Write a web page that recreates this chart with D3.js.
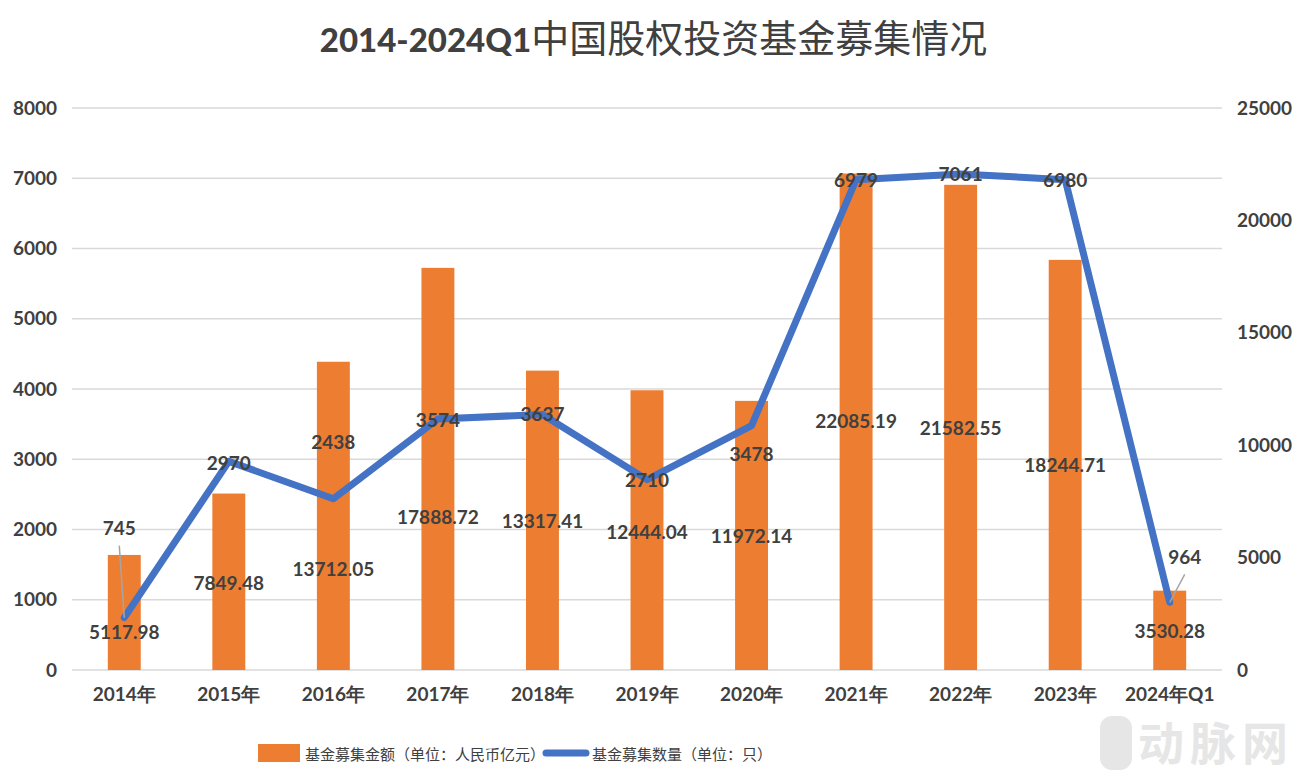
<!DOCTYPE html>
<html><head><meta charset="utf-8">
<script src="https://cdn.jsdelivr.net/npm/d3@7"></script>
<style>
html,body{margin:0;padding:0;background:#fff;}
svg{display:block;}
</style></head>
<body>
<script>
// ---- data ----
const categories = ["2014年","2015年","2016年","2017年","2018年","2019年","2020年","2021年","2022年","2023年","2024年Q1"];
const amounts = [5117.98, 7849.48, 13712.05, 17888.72, 13317.41, 12444.04, 11972.14, 22085.19, 21582.55, 18244.71, 3530.28];
const counts = [745, 2970, 2438, 3574, 3637, 2710, 3478, 6979, 7061, 6980, 964];
const leftTicks = [0,1000,2000,3000,4000,5000,6000,7000,8000];
const rightTicks = [0,5000,10000,15000,20000,25000];
const titleLatin = "2014-2024Q1";
const titleCJK = "中国股权投资基金募集情况";
const legendAmount = "基金募集金额（单位：人民币亿元）";
const legendCount = "基金募集数量（单位：只）";

// ---- layout (label placement, px) ----
const amountLabelDy = [77, 89, 207, 249, 150, 141, 135, 247, 243, 205, 40];
const countLabelOffset = [[-5,-90],[0,1],[0,-57],[0,1],[0,-1],[0,0],[0,28],[0,0],[0,0],[0,0],[15,-46]];
const leaderIdx = [0, 10];

const W = 1303, H = 777;
const m = {l:72, r:81, t:108, b:107};
const svg = d3.select("body").append("svg").attr("width",W).attr("height",H);

const x = d3.scaleBand().domain(categories).range([m.l, W-m.r]).paddingInner(0).paddingOuter(0);
const yL = d3.scaleLinear().domain([0,8000]).range([H-m.b, m.t]);
const yR = d3.scaleLinear().domain([0,25000]).range([H-m.b, m.t]);

const numFont = "Lato, 'Open Sans', sans-serif";
const txt = "#404040";

// watermark
const wm = svg.append("g");
wm.append("rect").attr("x",1100).attr("y",716).attr("width",32).attr("height",54).attr("rx",12).attr("fill","#e6e6e6");
wm.append("text").attr("x",1138).attr("y",760).attr("font-family","'Noto Sans CJK SC',sans-serif").attr("font-size",46)
  .attr("letter-spacing",6).attr("font-weight",700).attr("fill","#e6e6e6").text("动脉网");

// grid
svg.append("g").selectAll("line").data(leftTicks).join("line")
  .attr("x1",m.l).attr("x2",W-m.r).attr("y1",d=>yL(d)).attr("y2",d=>yL(d))
  .attr("stroke","#d9d9d9").attr("stroke-width",1.6);

// left axis
const axL = svg.append("g").attr("transform",`translate(${m.l},0)`)
  .call(d3.axisLeft(yL).tickValues(leftTicks).tickSize(0).tickPadding(15).tickFormat(d3.format("d")));
axL.select(".domain").remove();
axL.selectAll("text").attr("font-family",numFont).attr("font-weight",700).attr("font-size",19).attr("fill",txt);

// right axis
const axR = svg.append("g").attr("transform",`translate(${W-m.r},0)`)
  .call(d3.axisRight(yR).tickValues(rightTicks).tickSize(0).tickPadding(15).tickFormat(d3.format("d")));
axR.select(".domain").remove();
axR.selectAll("text").attr("font-family",numFont).attr("font-weight",700).attr("font-size",19).attr("fill",txt);

// x axis
const axX = svg.append("g").attr("transform",`translate(0,${H-m.b})`)
  .call(d3.axisBottom(x).tickSize(0).tickPadding(18));
axX.select(".domain").remove();
axX.selectAll("text").attr("font-family",numFont).attr("font-weight",700).attr("font-size",19).attr("fill",txt);

// bars
const bw = x.bandwidth()*0.315;
svg.append("g").selectAll("rect").data(amounts).join("rect")
  .attr("x",(d,i)=>x(categories[i])+x.bandwidth()/2-bw/2)
  .attr("width",bw)
  .attr("y",d=>yR(d))
  .attr("height",d=>yR(0)-yR(d))
  .attr("fill","#ED7D31");

// line
const cx = i => x(categories[i])+x.bandwidth()/2;
const line = d3.line().x((d,i)=>cx(i)).y(d=>yL(d));
svg.append("path").datum(counts).attr("d",line).attr("fill","none")
  .attr("stroke","#4472C4").attr("stroke-width",7).attr("stroke-linejoin","round").attr("stroke-linecap","round");

// leader lines
svg.append("g").selectAll("line").data(leaderIdx).join("line")
  .attr("x1",i=>cx(i)).attr("y1",i=>yL(counts[i]))
  .attr("x2",i=>cx(i)+countLabelOffset[i][0]).attr("y2",i=>yL(counts[i])+countLabelOffset[i][1]+18)
  .attr("stroke","#a5a5a5").attr("stroke-width",1.5);

// bar labels
svg.append("g").selectAll("text").data(amounts).join("text")
  .attr("x",(d,i)=>cx(i)).attr("y",(d,i)=>yR(d)+amountLabelDy[i])
  .attr("text-anchor","middle").attr("dominant-baseline","central")
  .attr("font-family",numFont).attr("font-weight",700).attr("font-size",19).attr("fill",txt)
  .text(d=>d.toFixed(2));

// count labels
svg.append("g").selectAll("text").data(counts).join("text")
  .attr("x",(d,i)=>cx(i)+countLabelOffset[i][0]).attr("y",(d,i)=>yL(d)+countLabelOffset[i][1])
  .attr("text-anchor","middle").attr("dominant-baseline","central")
  .attr("font-family",numFont).attr("font-weight",700).attr("font-size",19).attr("fill",txt)
  .text(d=>d);

// title
const t = svg.append("text").attr("x",W/2+2).attr("y",52).attr("text-anchor","middle").attr("fill",txt);
t.append("tspan").attr("font-family",numFont).attr("font-weight",900).attr("font-size",33).text(titleLatin);
t.append("tspan").attr("font-family","'Noto Sans CJK SC',sans-serif").attr("font-weight",400).attr("font-size",38).text(titleCJK);

// legend
const lg = svg.append("g");
lg.append("rect").attr("x",258).attr("y",744).attr("width",42).attr("height",18).attr("fill","#ED7D31");
lg.append("text").attr("x",305).attr("y",753).attr("dominant-baseline","central")
  .attr("font-family","'Noto Sans CJK SC',sans-serif").attr("font-size",15).attr("fill",txt).text(legendAmount);
lg.append("line").attr("x1",546).attr("x2",586).attr("y1",753).attr("y2",753)
  .attr("stroke","#4472C4").attr("stroke-width",7).attr("stroke-linecap","round");
lg.append("text").attr("x",592).attr("y",753).attr("dominant-baseline","central")
  .attr("font-family","'Noto Sans CJK SC',sans-serif").attr("font-size",15).attr("fill",txt).text(legendCount);
</script>
</body></html>
